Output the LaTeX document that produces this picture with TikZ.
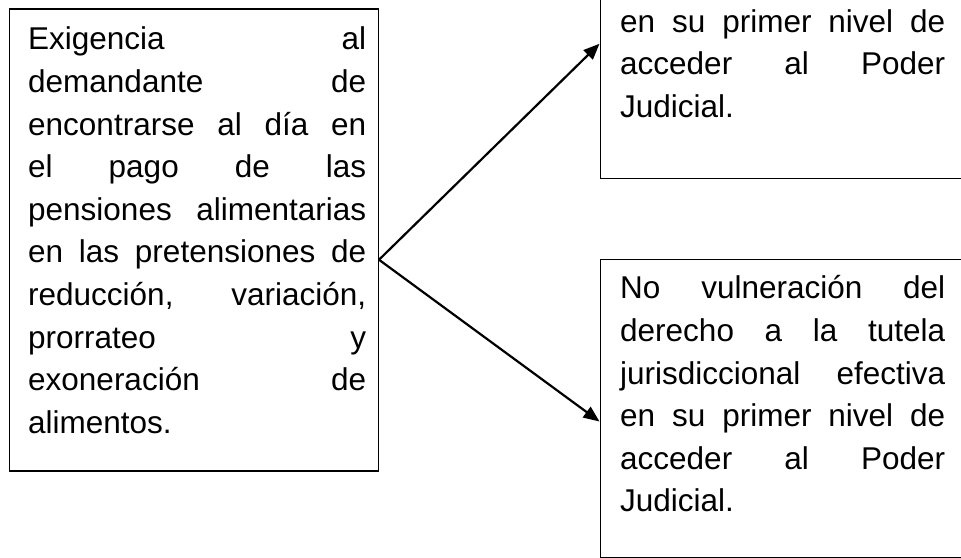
\documentclass[tikz,border=0pt]{standalone}
\usepackage{fontspec}
\setmainfont{Liberation Sans}
\usetikzlibrary{arrows.meta,calc}
\newcommand{\jl}[1]{\leavevmode\hbox to \linewidth{#1}}
\tikzset{
  box/.style={draw, line width=1.5pt, inner sep=0pt},
  txt/.style={anchor=base west, inner sep=0pt, align=left,
    font=\fontsize{31.5}{42.6}\selectfont},
  arr/.style={line width=2.2pt, -{Triangle[length=16pt,width=13pt]}},
}
\begin{document}
\begin{tikzpicture}[x=1pt,y=1pt]
\useasboundingbox (0,0) rectangle (961,557);
\clip (0,0) rectangle (961,557);
\fill[white] (0,0) rectangle (961,557);
% boxes
\node[box, minimum width=369pt, minimum height=462pt, anchor=north west] (lb) at (8.5,548.5) {};
\node[box, minimum width=385pt, minimum height=313pt, anchor=north west] (tr) at (599.5,692) {};
\node[box, minimum width=385pt, minimum height=297.5pt, anchor=north west] (br) at (599.5,298) {};
% texts
\node[txt, text width=338pt] (lt) at (28,507) {%
\jl{Exigencia\hfill al}\\
\jl{demandante\hfill de}\\
\jl{encontrarse\hfill al\hfill día\hfill en}\\
\jl{el\hfill pago\hfill de\hfill las}\\
\jl{pensiones\hfill alimentarias}\\
\jl{en\hfill las\hfill pretensiones\hfill de}\\
\jl{reducción,\hfill variación,}\\
\jl{prorrateo\hfill y}\\
\jl{exoneración\hfill de}\\
alimentos.};
\node[txt, text width=325pt] (tt) at (620,652.5) {%
\jl{No\hfill vulneración\hfill del}\\
\jl{derecho\hfill a\hfill la\hfill tutela}\\
\jl{jurisdiccional\hfill efectiva}\\
\jl{en\hfill su\hfill primer\hfill nivel\hfill de}\\
\jl{acceder\hfill al\hfill Poder}\\
Judicial.};
\node[txt, text width=325pt] (bt) at (620,258) {%
\jl{No\hfill vulneración\hfill del}\\
\jl{derecho\hfill a\hfill la\hfill tutela}\\
\jl{jurisdiccional\hfill efectiva}\\
\jl{en\hfill su\hfill primer\hfill nivel\hfill de}\\
\jl{acceder\hfill al\hfill Poder}\\
Judicial.};
% connectors
\coordinate (o) at ($(lb.east)+(0,-19.5)$);
\coordinate (t1) at ($(tr.west)+(0,-21.5)$);
\coordinate (t2) at ($(br.west)+(0,-13)$);
\draw[arr] (o) -- (t1);
\draw[arr] (o) -- (t2);
\end{tikzpicture}
\end{document}
